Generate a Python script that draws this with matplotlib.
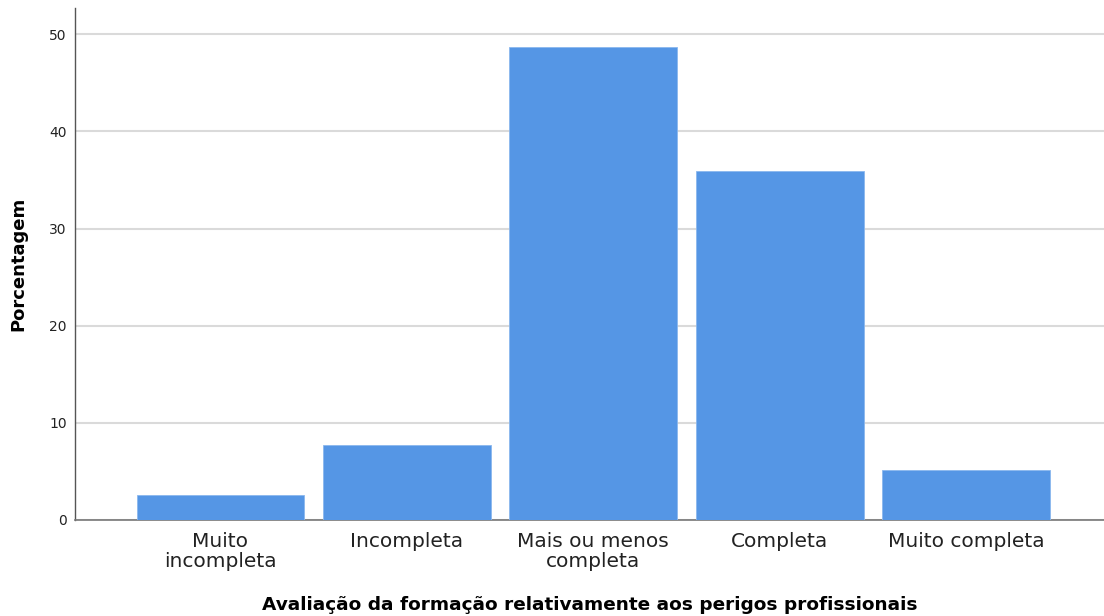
import matplotlib
matplotlib.use("Agg")
import matplotlib.pyplot as plt

# Dados
categorias = ["Muito\nincompleta", "Incompleta", "Mais ou menos\ncompleta", "Completa", "Muito completa"]
porcentagem = [2.6, 7.7, 48.7, 35.9, 5.1]
yticks = [0, 10, 20, 30, 40, 50]

fig = plt.figure(figsize=(11.04, 6.16), dpi=100)
ax = fig.add_axes([0.068, 0.156, 0.932, 0.831])

x = list(range(len(categorias)))
ax.bar(x, porcentagem, width=0.9, color="#5596E5", edgecolor="#8bb8ee", linewidth=0.6, zorder=3)

ax.set_xlim(-0.78, 4.74)
ax.set_ylim(0, 52.7)
ax.set_yticks(yticks)
ax.set_xticks(x)
ax.set_xticklabels(categorias, fontsize=14.5, color="#222222", linespacing=1.05)
ax.tick_params(axis="y", labelsize=10, colors="#222222", length=0, pad=6)
ax.tick_params(axis="x", length=0, pad=9)

# linhas de grade
ax.yaxis.grid(True, color="#dadada", linewidth=1.5, zorder=0)
ax.set_axisbelow(True)

for s in ["top", "right"]:
    ax.spines[s].set_visible(False)
ax.spines["left"].set_color("#555555")
ax.spines["bottom"].set_color("#777777")
ax.spines["left"].set_linewidth(1.0)
ax.spines["bottom"].set_linewidth(1.2)

ax.set_ylabel("Porcentagem", fontsize=13, fontweight="bold", labelpad=16)
ax.set_xlabel("Avaliação da formação relativamente aos perigos profissionais",
              fontsize=13.3, fontweight="bold", labelpad=18)

fig.savefig("out.png", dpi=100)
